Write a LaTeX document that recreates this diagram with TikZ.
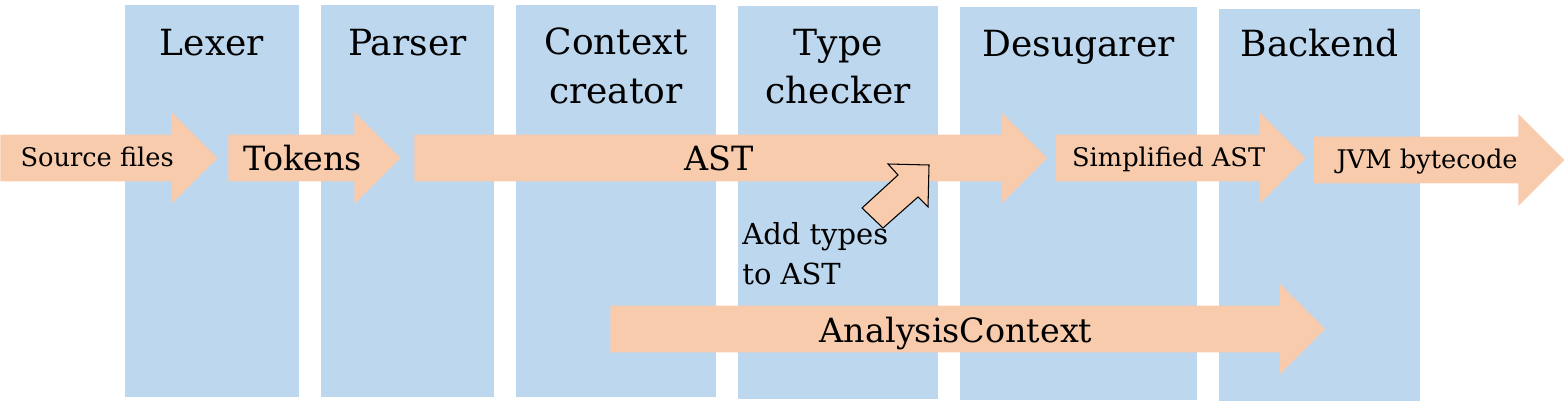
\documentclass[tikz,border=0pt]{standalone}
\usepackage{fontspec}
\setmainfont{DejaVu Serif}
\usetikzlibrary{positioning, shapes.arrows, fit}

\definecolor{stageblue}{HTML}{BDD7EE}
\definecolor{dataorange}{HTML}{F8CBAD}

\begin{document}
\begin{tikzpicture}[
    x=0.02cm, y=-0.02cm,
    stage/.style={
        rectangle,
        fill=stageblue,
        inner sep=0pt
    },
    header/.style={
        align=center,
        inner sep=0pt,
        font=\fontsize{20.5}{27.5}\selectfont
    },
    flow/.style={
        single arrow,
        fill=dataorange,
        inner xsep=0pt,
        inner ysep=0pt,
        single arrow head extend=0.45cm,
        single arrow tip angle=90,
        minimum width=1.82cm,
        anchor=tail
    },
    bigflow/.style={flow, font=\fontsize{19}{24}\selectfont, text height=0.72cm, text depth=0.2cm},
    smallflow/.style={flow, font=\fontsize{14.6}{18}\selectfont, text height=0.64cm, text depth=0.28cm},
    note/.style={align=left, inner sep=0pt, font=\fontsize{16.5}{22.7}\selectfont}
]
\useasboundingbox (0,0) rectangle (1564,402);

% compiler stages
\node[stage, fit={(125,5) (299,397)}] (lexer) {};
\node[stage, fit={(321,5) (494,397)}] (parser) {};
\node[stage, fit={(516,5) (716,397)}] (context) {};
\node[stage, fit={(738,6) (938,399)}] (typecheck) {};
\node[stage, fit={(960,7) (1197,400)}] (desugar) {};
\node[stage, fit={(1219,9) (1420,401)}] (backend) {};

\node[header, below=0.48cm of lexer.north] (lexerlbl) {Lexer};
\node[header, below=0.48cm of parser.north] (parserlbl) {Parser};
\node[header, below=0.46cm of context.north] (contextlbl) {Context\\creator};
\node[header, below=0.46cm of typecheck.north] (typechecklbl) {Type\\checker};
\node[header, below=0.46cm of desugar.north] (desugarlbl) {Desugarer};
\node[header, below=0.41cm of backend.north] (backendlbl) {Backend};

% data passed between stages
\node[smallflow, minimum height=4.34cm] (srcfiles) at (0,158) {Source files};
\node[bigflow, minimum height=3.44cm] (tokens) at (228,158) {Tokens};
\node[bigflow, minimum height=12.66cm] (ast) at (414,158) {AST};
\node[smallflow, minimum height=5.0cm] (simpast) at (1055,158) {Simplified AST};
\node[smallflow, minimum height=5.02cm] (bytecode) at (1313,160) {JVM bytecode};
\node[bigflow, minimum height=14.3cm, minimum width=1.8cm] (actx) at (610,329) {AnalysisContext};

% type annotation
\draw[fill=dataorange, line width=0.6pt] (862,208) -- (898,175) -- (888,164) -- (929,165)
    -- (928,207) -- (918,197) -- (883,228) -- cycle;
\node[note, anchor=north west] (typenote) at (742,222) {Add types\\to AST};

\end{tikzpicture}
\end{document}
